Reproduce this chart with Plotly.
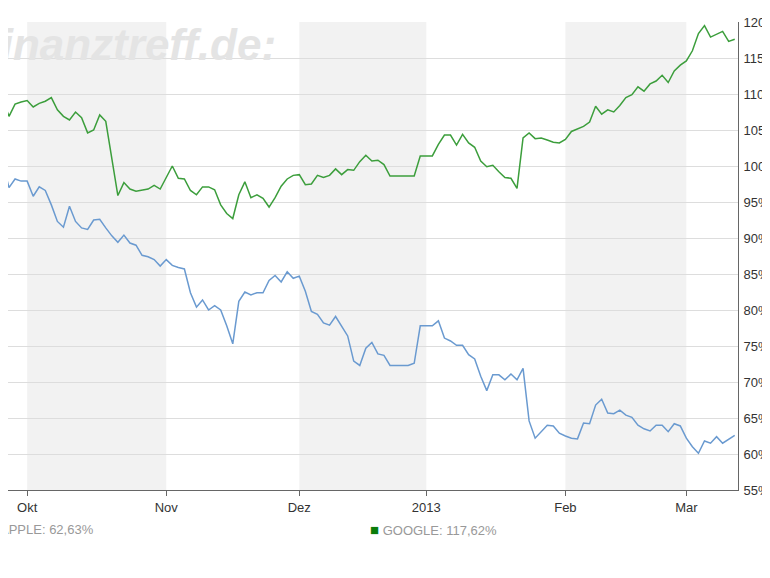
import plotly.graph_objects as go

google_dates = ["2012-09-24","2012-09-25","2012-09-26","2012-09-27","2012-09-28","2012-10-01","2012-10-02","2012-10-03","2012-10-04","2012-10-05",
"2012-10-08","2012-10-09","2012-10-10","2012-10-11","2012-10-12","2012-10-15","2012-10-16","2012-10-17","2012-10-18","2012-10-22",
"2012-10-23","2012-10-24","2012-10-25","2012-10-26","2012-10-29","2012-10-30","2012-10-31","2012-11-02","2012-11-05","2012-11-06",
"2012-11-07","2012-11-08","2012-11-09","2012-11-12","2012-11-13","2012-11-14","2012-11-15","2012-11-16","2012-11-19","2012-11-20",
"2012-11-21","2012-11-22","2012-11-23","2012-11-26","2012-11-27","2012-11-28","2012-11-29","2012-11-30","2012-12-03","2012-12-04",
"2012-12-05","2012-12-06","2012-12-07","2012-12-10","2012-12-11","2012-12-12","2012-12-13","2012-12-14","2012-12-17","2012-12-18",
"2012-12-19","2012-12-20","2012-12-21","2012-12-24","2012-12-25","2012-12-26","2012-12-27","2012-12-28","2012-12-31","2013-01-01",
"2013-01-02","2013-01-03","2013-01-04","2013-01-07","2013-01-08","2013-01-09","2013-01-10","2013-01-11","2013-01-14","2013-01-15",
"2013-01-16","2013-01-17","2013-01-18","2013-01-21","2013-01-22","2013-01-23","2013-01-24","2013-01-25","2013-01-28","2013-01-29",
"2013-01-30","2013-01-31","2013-02-01","2013-02-04","2013-02-05","2013-02-06","2013-02-07","2013-02-08","2013-02-11","2013-02-12",
"2013-02-13","2013-02-14","2013-02-15","2013-02-18","2013-02-19","2013-02-20","2013-02-21","2013-02-22","2013-02-25","2013-02-26",
"2013-02-27","2013-02-28","2013-03-01","2013-03-04","2013-03-05","2013-03-06","2013-03-07","2013-03-08","2013-03-11","2013-03-12",
"2013-03-13"]
google_vals = [108.0,109.1,106.9,108.6,108.9,109.1,108.2,108.7,109.0,109.5,
107.8,106.9,106.4,107.5,106.7,104.6,105.0,107.1,106.2,95.9,
97.7,96.8,96.5,96.6,96.8,97.3,96.8,100.0,98.3,98.2,
96.6,96.0,97.1,97.1,96.7,94.6,93.4,92.7,96.0,97.8,
95.6,96.0,95.5,94.3,95.6,97.2,98.2,98.7,98.8,97.4,
97.5,98.7,98.4,98.7,99.6,98.8,99.5,99.4,100.6,101.5,
100.7,100.8,100.2,98.6,98.6,98.6,98.6,98.6,101.4,101.4,
101.4,103.0,104.3,104.3,102.9,104.4,103.2,102.6,100.7,99.9,
100.1,99.2,98.4,98.3,96.9,103.9,104.6,103.8,103.9,103.6,
103.3,103.2,103.7,104.8,105.2,105.5,106.1,108.3,107.2,107.8,
107.5,108.4,109.5,109.9,111.0,110.4,111.4,111.8,112.6,111.6,
113.2,114.0,114.6,116.0,118.4,119.5,117.9,118.3,118.7,117.3,
117.6]

apple_dates = ["2012-09-24","2012-09-25","2012-09-26","2012-09-27","2012-09-28","2012-10-01","2012-10-02","2012-10-03","2012-10-04","2012-10-05",
"2012-10-08","2012-10-09","2012-10-10","2012-10-11","2012-10-12","2012-10-15","2012-10-16","2012-10-17","2012-10-18","2012-10-19",
"2012-10-22","2012-10-23","2012-10-24","2012-10-25","2012-10-26","2012-10-29","2012-10-30","2012-10-31","2012-11-01","2012-11-02",
"2012-11-05","2012-11-06","2012-11-07","2012-11-08","2012-11-09","2012-11-12","2012-11-13","2012-11-14","2012-11-15","2012-11-16",
"2012-11-19","2012-11-20","2012-11-21","2012-11-22","2012-11-23","2012-11-26","2012-11-27","2012-11-28","2012-11-29","2012-11-30",
"2012-12-03","2012-12-04","2012-12-05","2012-12-06","2012-12-07","2012-12-10","2012-12-11","2012-12-12","2012-12-13","2012-12-14",
"2012-12-17","2012-12-18","2012-12-19","2012-12-20","2012-12-21","2012-12-24","2012-12-25","2012-12-26","2012-12-27","2012-12-28",
"2012-12-31","2013-01-01","2013-01-02","2013-01-03","2013-01-04","2013-01-07","2013-01-08","2013-01-09","2013-01-10","2013-01-11",
"2013-01-14","2013-01-15","2013-01-16","2013-01-17","2013-01-18","2013-01-21","2013-01-22","2013-01-23","2013-01-24","2013-01-25",
"2013-01-28","2013-01-29","2013-01-30","2013-01-31","2013-02-01","2013-02-04","2013-02-05","2013-02-06","2013-02-07","2013-02-08",
"2013-02-11","2013-02-12","2013-02-13","2013-02-14","2013-02-15","2013-02-18","2013-02-19","2013-02-20","2013-02-21","2013-02-22",
"2013-02-25","2013-02-26","2013-02-27","2013-02-28","2013-03-01","2013-03-04","2013-03-05","2013-03-06","2013-03-07","2013-03-08",
"2013-03-11","2013-03-12","2013-03-13"]
apple_vals = [100.6,100.2,97.0,98.2,97.9,97.9,95.8,97.1,96.6,94.6,
92.3,91.5,94.4,92.3,91.4,91.2,92.5,92.6,91.4,90.3,
89.4,90.4,89.3,89.0,87.6,87.4,87.0,86.1,87.0,86.2,
85.9,85.7,82.4,80.4,81.4,80.0,80.6,80.0,77.8,75.3,
81.2,82.5,82.1,82.4,82.4,84.1,84.8,83.9,85.3,84.4,
84.7,82.6,79.8,79.4,78.2,77.9,79.1,77.8,76.4,72.9,
72.3,74.7,75.5,73.9,73.7,72.3,72.3,72.3,72.3,72.6,
77.8,77.8,77.8,78.5,76.1,75.7,75.1,75.1,73.8,73.2,
70.8,68.8,71.0,71.0,70.3,71.1,70.3,71.9,64.6,62.2,
63.1,64.0,63.9,62.9,62.5,62.2,62.1,64.3,64.2,66.8,
67.6,65.7,65.6,66.1,65.4,65.1,64.0,63.5,63.2,64.0,
64.0,63.1,64.2,63.9,62.2,61.0,60.1,61.8,61.5,62.4,
61.5,62.1,62.6]

y_ticks = list(range(55, 121, 5))
month_ticks = ["2012-10-01", "2012-11-01", "2012-12-03", "2013-01-01", "2013-02-01", "2013-03-01"]
month_labels = ["Okt", "Nov", "Dez", "2013", "Feb", "Mar"]
shaded = [("2012-10-01", "2012-11-01"), ("2012-12-01", "2013-01-01"), ("2013-02-01", "2013-03-01")]

fig = go.Figure()
fig.add_trace(go.Scatter(x=apple_dates, y=apple_vals, mode="lines", line=dict(color="#6a9ad0", width=1.5), name="APPLE"))
fig.add_trace(go.Scatter(x=google_dates, y=google_vals, mode="lines", line=dict(color="#3c9e3c", width=1.5), name="GOOGLE"))

for a, b in shaded:
    fig.add_shape(type="rect", xref="x", yref="paper", x0=a, x1=b, y0=0, y1=1,
                  fillcolor="#f2f2f2", line_width=0, layer="below")

fig.add_annotation(x=270/730, xref="paper", y=1, yref="paper", xanchor="right", yanchor="top",
                   text="<b><i>finanztreff.de:</i></b>", showarrow=False, yshift=4,
                   font=dict(family="Liberation Sans, Arial", size=44, color="#e4e4e4"))
fig.add_annotation(x=-10/730, xref="paper", y=-0.085, yref="paper", xanchor="left", yanchor="middle",
                   text="APPLE: 62,63%", showarrow=False, font=dict(family="Liberation Sans, Arial", size=13, color="#999"))
fig.add_annotation(x=360/730, xref="paper", y=-0.085, yref="paper", xanchor="left", yanchor="middle",
                   text="<span style='color:#0a7d0a;font-size:15px'>■</span> GOOGLE: 117,62%", showarrow=False,
                   font=dict(family="Liberation Sans, Arial", size=13, color="#999"))

fig.update_layout(
    width=770, height=578, margin=dict(l=0, r=40, t=14, b=96),
    paper_bgcolor="white", plot_bgcolor="white", showlegend=False,
    font=dict(family="Liberation Sans, Arial", size=13, color="#333"),
    xaxis=dict(range=["2012-09-25 20:00", "2013-03-13 13:00"],
               rangebreaks=[dict(bounds=["sat", "mon"])],
               tickvals=month_ticks, ticktext=month_labels, ticks="outside", ticklen=5,
               tickcolor="#666", showgrid=False, showline=True, linecolor="#666", zeroline=False),
    yaxis=dict(range=[55, 120], side="right", tickvals=y_ticks, ticktext=[f"{v}%" for v in y_ticks],
               showgrid=True, gridcolor="#dddddd", showline=True, linecolor="#666",
               ticks="", zeroline=False, ticklabelstandoff=2),
)
fig.write_html("out.html")
